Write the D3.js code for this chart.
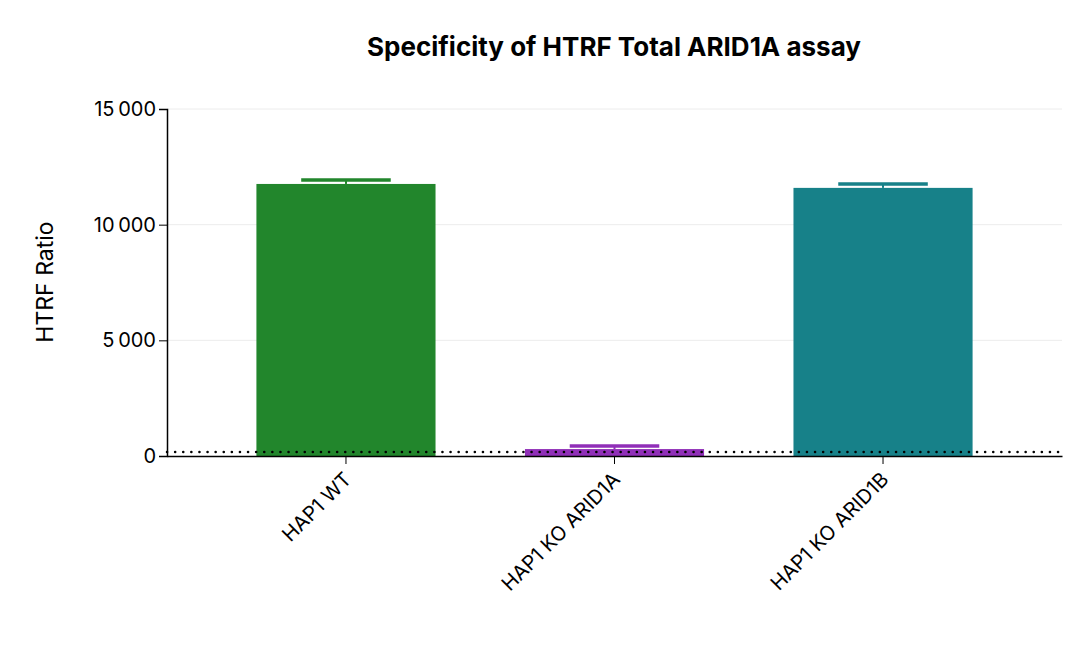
<!DOCTYPE html>
<html><head><meta charset="utf-8">
<script src="https://cdn.jsdelivr.net/npm/d3@7"></script>
<style>body{margin:0;background:#fff}text{font-family:Inter,"Noto Sans",sans-serif}</style>
</head><body><svg id="c" width="1080" height="659"></svg>
<script>
const categories=["HAP1 WT","HAP1 KO ARID1A","HAP1 KO ARID1B"];
const values=[11760,300,11590];
const errors=[170,130,170];
const colors=["#22862c","#902fb8","#178189"];
const yTicks=[0,5000,10000,15000];
const threshold=170;

const svg=d3.select("#c");
const L=167,R=1062,T=109,B=456;
const x=d3.scaleBand().domain(categories).range([L,R]).padding(0.333);
const y=d3.scaleLinear().domain([0,15000]).range([B,T]);
const fmt=v=>d3.format(",")(v).replace(/,/g,"\u202f");

svg.append("g").selectAll("line").data(yTicks.slice(1)).join("line")
 .attr("x1",L).attr("x2",R).attr("y1",d=>y(d)).attr("y2",d=>y(d)).attr("stroke","#ececec");

svg.append("g").selectAll("rect").data(categories).join("rect")
 .attr("x",d=>x(d)).attr("width",x.bandwidth())
 .attr("y",(d,i)=>y(values[i])).attr("height",(d,i)=>B-y(values[i]))
 .attr("fill",(d,i)=>colors[i]);
// error bars
const eb=svg.append("g");
categories.forEach((c,i)=>{
 const cx=x(c)+x.bandwidth()/2, w=x.bandwidth()/2;
 eb.append("line").attr("x1",cx).attr("x2",cx).attr("y1",y(values[i])).attr("y2",y(values[i]+errors[i])).attr("stroke",colors[i]).attr("stroke-width",2);
 eb.append("line").attr("x1",cx-w/2).attr("x2",cx+w/2).attr("y1",y(values[i]+errors[i])).attr("y2",y(values[i]+errors[i])).attr("stroke",colors[i]).attr("stroke-width",3.5);
});
svg.append("line").attr("x1",L).attr("x2",R).attr("y1",y(threshold)).attr("y2",y(threshold))
 .attr("stroke","#000").attr("stroke-width",2.5).attr("stroke-dasharray","0.1 8").attr("stroke-linecap","round");

const ya=svg.append("g").attr("transform",`translate(${L},0)`).call(d3.axisLeft(y).tickValues(yTicks).tickSize(8).tickFormat(fmt));
ya.select(".domain").attr("stroke-width",1.5);
ya.selectAll("text").attr("font-size",20).attr("fill","#000").attr("font-family","Inter");
const xa=svg.append("g").attr("transform",`translate(0,${B})`).call(d3.axisBottom(x).tickSize(8).tickSizeOuter(0));
xa.select(".domain").attr("stroke-width",1.5);
xa.selectAll("text").attr("font-size",20).attr("fill","#000").attr("font-family","Inter")
 .attr("text-anchor","end").attr("transform","translate(-6,12) rotate(-45)").attr("dy","0.35em");

svg.append("text").attr("x",614).attr("y",56).attr("text-anchor","middle").attr("font-size",26).attr("font-weight","bold").text("Specificity of HTRF Total ARID1A assay");
svg.append("text").attr("transform","translate(53,282) rotate(-90)").attr("text-anchor","middle").attr("font-size",23).text("HTRF Ratio");
</script></body></html>
